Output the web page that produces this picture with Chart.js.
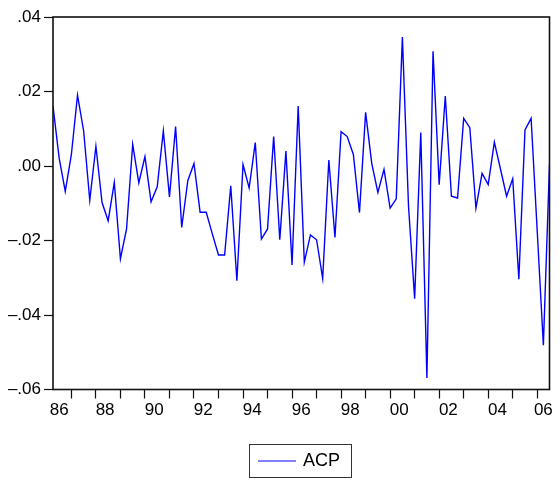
<!DOCTYPE html>
<html>
<head>
<meta charset="utf-8">
<script src="https://cdn.jsdelivr.net/npm/chart.js@4/dist/chart.umd.min.js"></script>
<style>
  html, body { margin: 0; padding: 0; background: #fff; }
  #wrap { width: 560px; height: 481px; position: relative; }
</style>
</head>
<body>
<div id="wrap"><canvas id="acpChart"></canvas></div>
<script>
// quarterly series, first observation 1986Q2
const seriesName = 'ACP';
const startYear = 1986;
const startQuarter = 2;
const acp = [
    0.0161, 0.0022, -0.0068, 0.0031, 0.0190, 0.0094, -0.0092, 0.0053, -0.0098, -0.0147,
    -0.0044, -0.0249, -0.0169, 0.0058, -0.0045, 0.0025, -0.0096, -0.0056, 0.0094, -0.0083,
    0.0106, -0.0165, -0.0039, 0.0007, -0.0124, -0.0124, -0.0183, -0.0239, -0.0239, -0.0053,
    -0.0308, 0.0004, -0.0059, 0.0063, -0.0196, -0.0169, 0.0079, -0.0198, 0.0040, -0.0266,
    0.0161, -0.0258, -0.0185, -0.0198, -0.0302, 0.0016, -0.0192, 0.0092, 0.0079, 0.0031,
    -0.0125, 0.0144, 0.0007, -0.0071, -0.0009, -0.0113, -0.0088, 0.0346, -0.0108, -0.0356,
    0.0090, -0.0569, 0.0308, -0.0050, 0.0188, -0.0081, -0.0086, 0.0128, 0.0103, -0.0113,
    -0.0020, -0.0050, 0.0064, -0.0008, -0.0081, -0.0034, -0.0304, 0.0097, 0.0128, -0.0176,
    -0.0481, 0.0004,
];
const yTicks = [-0.06, -0.04, -0.02, 0.00, 0.02, 0.04];

const FONT = "'Liberation Sans', Arial, sans-serif";

// x position of each observation: year + (quarter - 1) / 4
const points = acp.map((v, i) => {
    const q = startQuarter - 1 + i;
    return { x: startYear + Math.floor(q / 4) + (q % 4) / 4, y: v };
});
const xMin = points[0].x;
const xMax = points[points.length - 1].x;

// year ticks sit on each Q1; even-year labels are centred on that year's observations
const yearTicks = [];
for (let y = Math.ceil(xMin); y <= Math.floor(xMax); y++) yearTicks.push(y);

const yearLabels = new Map();
for (let y = startYear; y <= Math.floor(xMax); y += 2) {
    const xs = points.filter(p => Math.floor(p.x) === y).map(p => p.x);
    if (!xs.length) continue;
    const mid = xs.reduce((s, v) => s + v, 0) / xs.length;
    yearLabels.set(mid, String(y).slice(2));
}

const framePlugin = {
    id: 'frame',
    afterDatasetsDraw(chart) {
        const { ctx, chartArea: a } = chart;
        ctx.save();
        ctx.strokeStyle = '#111';
        ctx.lineWidth = 1.6;
        ctx.strokeRect(a.left, a.top, a.right - a.left, a.bottom - a.top);
        ctx.restore();
    },
};

const legendBoxPlugin = {
    id: 'legendBox',
    afterDraw(chart) {
        const { ctx } = chart;
        const ds = chart.data.datasets[0];
        ctx.save();
        ctx.strokeStyle = '#333';
        ctx.lineWidth = 1;
        ctx.strokeRect(249.5, 444.5, 102, 33);
        ctx.strokeStyle = ds.borderColor;
        ctx.lineWidth = 1;
        ctx.beginPath();
        ctx.moveTo(258, 461);
        ctx.lineTo(296, 461);
        ctx.stroke();
        ctx.fillStyle = '#000';
        ctx.font = `18px ${FONT}`;
        ctx.textBaseline = 'middle';
        ctx.fillText(ds.label, 303, 461.5);
        ctx.restore();
    },
};

new Chart(document.getElementById('acpChart'), {
    type: 'line',
    data: {
        datasets: [
            {
                label: seriesName,
                data: points,
                borderColor: '#0000ff',
                borderWidth: 1.4,
                pointRadius: 0,
                tension: 0,
                fill: false,
            },
        ],
    },
    options: {
        responsive: true,
        maintainAspectRatio: false,
        animation: false,
        layout: {
            padding: { top: 17, right: 10.5, left: 0, bottom: 0 },
        },
        scales: {
            x: {
                type: 'linear',
                min: xMin,
                max: xMax,
                afterBuildTicks: (scale) => {
                    const vals = [...yearTicks, ...yearLabels.keys()].sort((a, b) => a - b);
                    scale.ticks = vals.map(value => ({ value }));
                },
                afterFit: (scale) => {
                    scale.height = 91.5;
                },
                border: { display: false },
                grid: {
                    drawOnChartArea: false,
                    drawTicks: true,
                    tickLength: 9,
                    tickWidth: 1.2,
                    tickColor: (ctx) => (ctx.tick && yearLabels.has(ctx.tick.value) ? 'rgba(0,0,0,0)' : '#111'),
                },
                ticks: {
                    autoSkip: false,
                    maxRotation: 0,
                    padding: 2,
                    color: '#000',
                    font: { family: FONT, size: 17 },
                    callback: (value) => yearLabels.get(value) ?? '',
                },
            },
            y: {
                min: yTicks[0],
                max: yTicks[yTicks.length - 1],
                afterBuildTicks: (scale) => {
                    scale.ticks = yTicks.map(value => ({ value }));
                },
                afterFit: (scale) => {
                    scale.width = 53;
                },
                border: { display: false },
                grid: {
                    drawOnChartArea: false,
                    drawTicks: true,
                    tickLength: 9,
                    tickWidth: 1.2,
                    tickColor: '#111',
                },
                ticks: {
                    padding: 3,
                    color: '#000',
                    font: { family: FONT, size: 17 },
                    // ".04" style labels, en dash for negatives
                    callback: (value) => {
                        const s = Math.abs(value).toFixed(2).replace(/^0/, '');
                        return value < -1e-9 ? '\u2013' + s : s;
                    },
                },
            },
        },
        plugins: {
            legend: { display: false },
            tooltip: { enabled: false },
        },
    },
    plugins: [framePlugin, legendBoxPlugin],
});
</script>
</body>
</html>
